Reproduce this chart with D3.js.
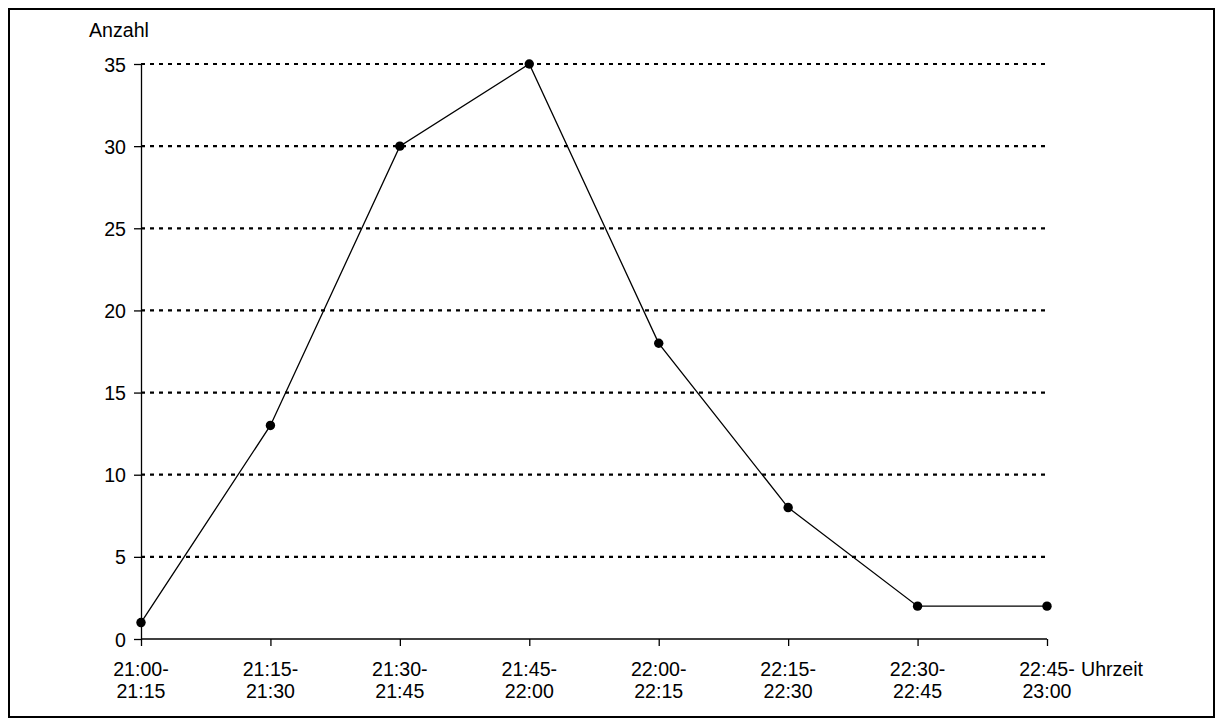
<!DOCTYPE html>
<html><head><meta charset="utf-8">
<script src="https://cdn.jsdelivr.net/npm/d3@7"></script>
<style>body{margin:0;background:#fff}svg{display:block}text{font-family:Arial,"Liberation Sans",sans-serif;fill:#000}</style>
</head><body>
<svg id="c" width="1221" height="726"></svg>
<script>
const categories = [["21:00-","21:15"],["21:15-","21:30"],["21:30-","21:45"],["21:45-","22:00"],["22:00-","22:15"],["22:15-","22:30"],["22:30-","22:45"],["22:45-","23:00"]];
const values = [1, 13, 30, 35, 18, 8, 2, 2];
const yTicks = [0,5,10,15,20,25,30,35];
const yTitle = "Anzahl";
const xTitle = "Uhrzeit";
const FS = "19.6px";

const svg = d3.select("#c");
svg.append("rect").attr("x",9).attr("y",9).attr("width",1205).attr("height",708)
  .attr("fill","none").attr("stroke","#000").attr("stroke-width",2);

const x = d3.scalePoint().domain(d3.range(categories.length)).range([141,1047]);
const y = d3.scaleLinear().domain([0,35]).range([639,64]);

// gridlines
svg.append("g").selectAll("line").data(yTicks.filter(d=>d>0)).join("line")
  .attr("x1",141).attr("x2",1045).attr("y1",d=>y(d)).attr("y2",d=>y(d))
  .attr("stroke","#000").attr("stroke-width",2.2).attr("stroke-dasharray","4,5");

// y axis
const ya = svg.append("g").attr("transform","translate(141,0)")
  .call(d3.axisLeft(y).tickValues(yTicks).tickSize(7).tickSizeOuter(0).tickPadding(8));
ya.select(".domain").attr("stroke-width",1.3);
ya.selectAll("line").attr("stroke-width",1.3);
ya.selectAll("text").style("font-size",FS).attr("font-family","Arial").attr("dy","0.36em");

// x axis
const xa = svg.append("g").attr("transform","translate(0,639)")
  .call(d3.axisBottom(x).tickSize(7).tickSizeOuter(0).tickFormat(()=>""));
xa.select(".domain").attr("stroke-width",1.3).attr("d","M141,0H1047");
xa.selectAll("line").attr("stroke-width",1.3);
const lbl = svg.append("g").selectAll("text").data(categories).join("text")
  .attr("text-anchor","middle").style("font-size",FS);
lbl.append("tspan").attr("x",(d,i)=>x(i)).attr("y",676).text(d=>d[0]);
lbl.append("tspan").attr("x",(d,i)=>x(i)).attr("y",698).text(d=>d[1]);

svg.append("text").attr("x",89).attr("y",37).style("font-size",FS).text(yTitle);
svg.append("text").attr("x",1081).attr("y",676).style("font-size",FS).text(xTitle);

// line
svg.append("path").datum(values)
  .attr("d",d3.line().x((d,i)=>x(i)).y(d=>y(d)))
  .attr("fill","none").attr("stroke","#000").attr("stroke-width",1.3);
svg.append("g").selectAll("circle").data(values).join("circle")
  .attr("cx",(d,i)=>x(i)).attr("cy",d=>y(d)).attr("r",4.7).attr("fill","#000");
</script>
</body></html>
